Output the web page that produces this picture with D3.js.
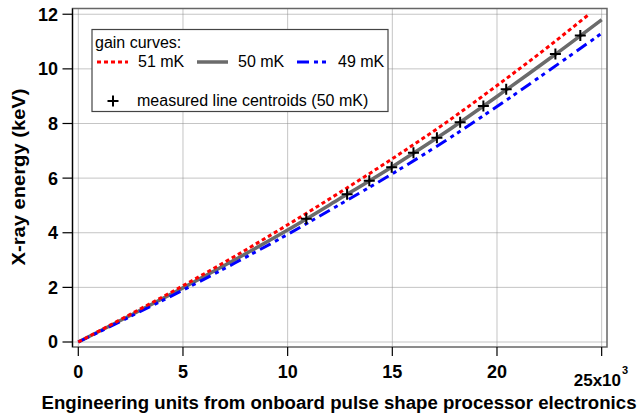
<!DOCTYPE html>
<html>
<head>
<meta charset="utf-8">
<script src="https://cdn.jsdelivr.net/npm/d3@7"></script>
<style>
  body { margin: 0; background: #fff; }
  svg { display: block; font-family: "Liberation Sans", Arial, Helvetica, sans-serif; }
</style>
</head>
<body>
<svg id="chart" width="639" height="416"></svg>
<script>
// gain curves, x in engineering units, y in keV
var units = [0, 2500, 5000, 7500, 10000, 12500, 15000, 17500, 20000, 22500, 25000];
var gain50 = [0, 0.98, 1.98, 3.02, 4.10, 5.25, 6.42, 7.66, 8.99, 10.37, 11.80];
var gain49 = [0, 0.94, 1.90, 2.90, 3.94, 5.04, 6.16, 7.35, 8.62, 9.95, 11.30];
var units51 = [0, 2500, 5000, 7500, 10000, 12500, 15000, 17500, 20000, 22500, 24400];
var gain51 = [0, 1.02, 2.06, 3.15, 4.29, 5.48, 6.71, 8.00, 9.39, 10.84, 12.00];

// measured line centroids (50 mK)
var centroidUnits = [10890, 12840, 13900, 14970, 16010, 17130, 18240, 19350, 20440, 22790, 23980];
var centroidKeV = [4.51, 5.41, 5.90, 6.40, 6.93, 7.48, 8.05, 8.64, 9.25, 10.54, 11.22];

var xTicks = [0, 5000, 10000, 15000, 20000, 25000];
var yTicks = [0, 2, 4, 6, 8, 10, 12];

var pLeft = 72.5, pRight = 607, pTop = 8.5, pBottom = 347;

var svg = d3.select('#chart');

var x = d3.scaleLinear().domain([-277, 25255]).range([pLeft, pRight]);
var y = d3.scaleLinear().domain([-0.183, 12.21]).range([pBottom, pTop]);

svg.append('defs').append('clipPath').attr('id', 'plotclip')
    .append('rect')
    .attr('x', pLeft).attr('y', pTop)
    .attr('width', pRight - pLeft).attr('height', pBottom - pTop);

// grid
var grid = svg.append('g');
grid.selectAll('.vg').data(xTicks).enter().append('line')
    .attr('x1', d => x(d)).attr('x2', d => x(d))
    .attr('y1', pTop).attr('y2', pBottom)
    .attr('stroke', '#8a8a8a').attr('stroke-width', 1)
    .attr('stroke-dasharray', '1,1');
grid.selectAll('.hg').data(yTicks).enter().append('line')
    .attr('y1', d => y(d)).attr('y2', d => y(d))
    .attr('x1', pLeft).attr('x2', pRight)
    .attr('stroke', '#8a8a8a').attr('stroke-width', 1)
    .attr('stroke-dasharray', '1,1');

// frame
svg.append('rect')
    .attr('x', pLeft).attr('y', pTop)
    .attr('width', pRight - pLeft).attr('height', pBottom - pTop)
    .attr('fill', 'none').attr('stroke', '#666').attr('stroke-width', 1.5);

// curves
function pts(xs, ys) { return xs.map(function(d, i){ return [d, ys[i]]; }); }
var line = d3.line()
    .x(d => x(d[0])).y(d => y(d[1]))
    .curve(d3.curveMonotoneX);

var curves = svg.append('g').attr('clip-path', 'url(#plotclip)');
curves.append('path').attr('d', line(pts(units, gain50)))
    .attr('fill', 'none').attr('stroke', '#6b6b6b').attr('stroke-width', 3.5);
curves.append('path').attr('d', line(pts(units, gain49)))
    .attr('fill', 'none').attr('stroke', '#0000ff').attr('stroke-width', 3)
    .attr('stroke-dasharray', '12,5,4,4,4,5');
curves.append('path').attr('d', line(pts(units51, gain51)))
    .attr('fill', 'none').attr('stroke', '#ff0000').attr('stroke-width', 3)
    .attr('stroke-dasharray', '4,3');

// markers
svg.append('g').selectAll('path')
    .data(centroidUnits)
    .enter()
    .append('path')
    .attr('d', 'M-5.5,0H5.5M0,-5.5V5.5')
    .attr('transform', (d, i) => 'translate(' + x(d) + ',' + y(centroidKeV[i]) + ')')
    .attr('stroke', '#000').attr('stroke-width', 2).attr('fill', 'none');

// axes
svg.append('line').attr('x1', pLeft).attr('x2', pLeft).attr('y1', pTop).attr('y2', pBottom)
    .attr('stroke', '#000').attr('stroke-width', 1.2);

var yAxis = svg.append('g');
yAxis.selectAll('line').data(yTicks).enter().append('line')
    .attr('x1', pLeft - 10).attr('x2', pLeft)
    .attr('y1', d => y(d)).attr('y2', d => y(d))
    .attr('stroke', '#000').attr('stroke-width', 1.2);
yAxis.selectAll('text').data(yTicks).enter().append('text')
    .attr('x', 58).attr('y', d => y(d)).attr('dy', '0.36em')
    .attr('text-anchor', 'end')
    .attr('font-size', 18).attr('font-weight', 'bold')
    .text(d => d);

var xAxis = svg.append('g');
xAxis.selectAll('line').data(xTicks).enter().append('line')
    .attr('x1', d => x(d)).attr('x2', d => x(d))
    .attr('y1', pBottom).attr('y2', pBottom + 9)
    .attr('stroke', '#000').attr('stroke-width', 1.2);
xAxis.selectAll('text').data(xTicks.slice(0, 5)).enter().append('text')
    .attr('x', d => x(d)).attr('y', 378)
    .attr('text-anchor', 'middle')
    .attr('font-size', 18).attr('font-weight', 'bold')
    .text(d => d / 1000);
xAxis.append('text')
    .attr('x', 621).attr('y', 386)
    .attr('text-anchor', 'end')
    .attr('font-size', 17).attr('font-weight', 'bold')
    .text(xTicks[5] / 1000 + 'x10');
xAxis.append('text').attr('x', 622).attr('y', 374)
    .attr('font-size', 11).attr('font-weight', 'bold').text('3');

// axis titles
svg.append('text')
    .attr('x', 339).attr('y', 409)
    .attr('text-anchor', 'middle')
    .attr('font-size', 18).attr('font-weight', 'bold')
    .attr('textLength', 595).attr('lengthAdjust', 'spacingAndGlyphs')
    .text('Engineering units from onboard pulse shape processor electronics');
svg.append('text')
    .attr('transform', 'translate(25,177) rotate(-90)')
    .attr('text-anchor', 'middle')
    .attr('font-size', 18).attr('font-weight', 'bold')
    .attr('textLength', 177).attr('lengthAdjust', 'spacingAndGlyphs')
    .text('X-ray energy (keV)');

// legend
var lg = svg.append('g');
lg.append('rect')
    .attr('x', 92).attr('y', 29.5).attr('width', 296).attr('height', 82)
    .attr('fill', '#fff').attr('stroke', '#444').attr('stroke-width', 1.2);
lg.append('text').attr('x', 95).attr('y', 48).attr('font-size', 16).text('gain curves:');
var legendItems = [
    {label: '51 mK', color: '#ff0000', dash: '4,3', w: 3, x0: 97},
    {label: '50 mK', color: '#6b6b6b', dash: null, w: 3.5, x0: 197},
    {label: '49 mK', color: '#0000ff', dash: '12,5,4,4,4,5', w: 3, x0: 297}
];
legendItems.forEach(function(it){
    lg.append('line')
        .attr('x1', it.x0).attr('x2', it.x0 + 31)
        .attr('y1', 62).attr('y2', 62)
        .attr('stroke', it.color).attr('stroke-width', it.w)
        .attr('stroke-dasharray', it.dash);
    lg.append('text').attr('x', it.x0 + 41).attr('y', 67)
        .attr('font-size', 16).text(it.label);
});
lg.append('path').attr('d', 'M-5.5,0H5.5M0,-5.5V5.5')
    .attr('transform', 'translate(113,101)')
    .attr('stroke', '#000').attr('stroke-width', 2);
lg.append('text').attr('x', 137).attr('y', 106).attr('font-size', 16)
    .text('measured line centroids (50 mK)');
</script>
</body>
</html>
